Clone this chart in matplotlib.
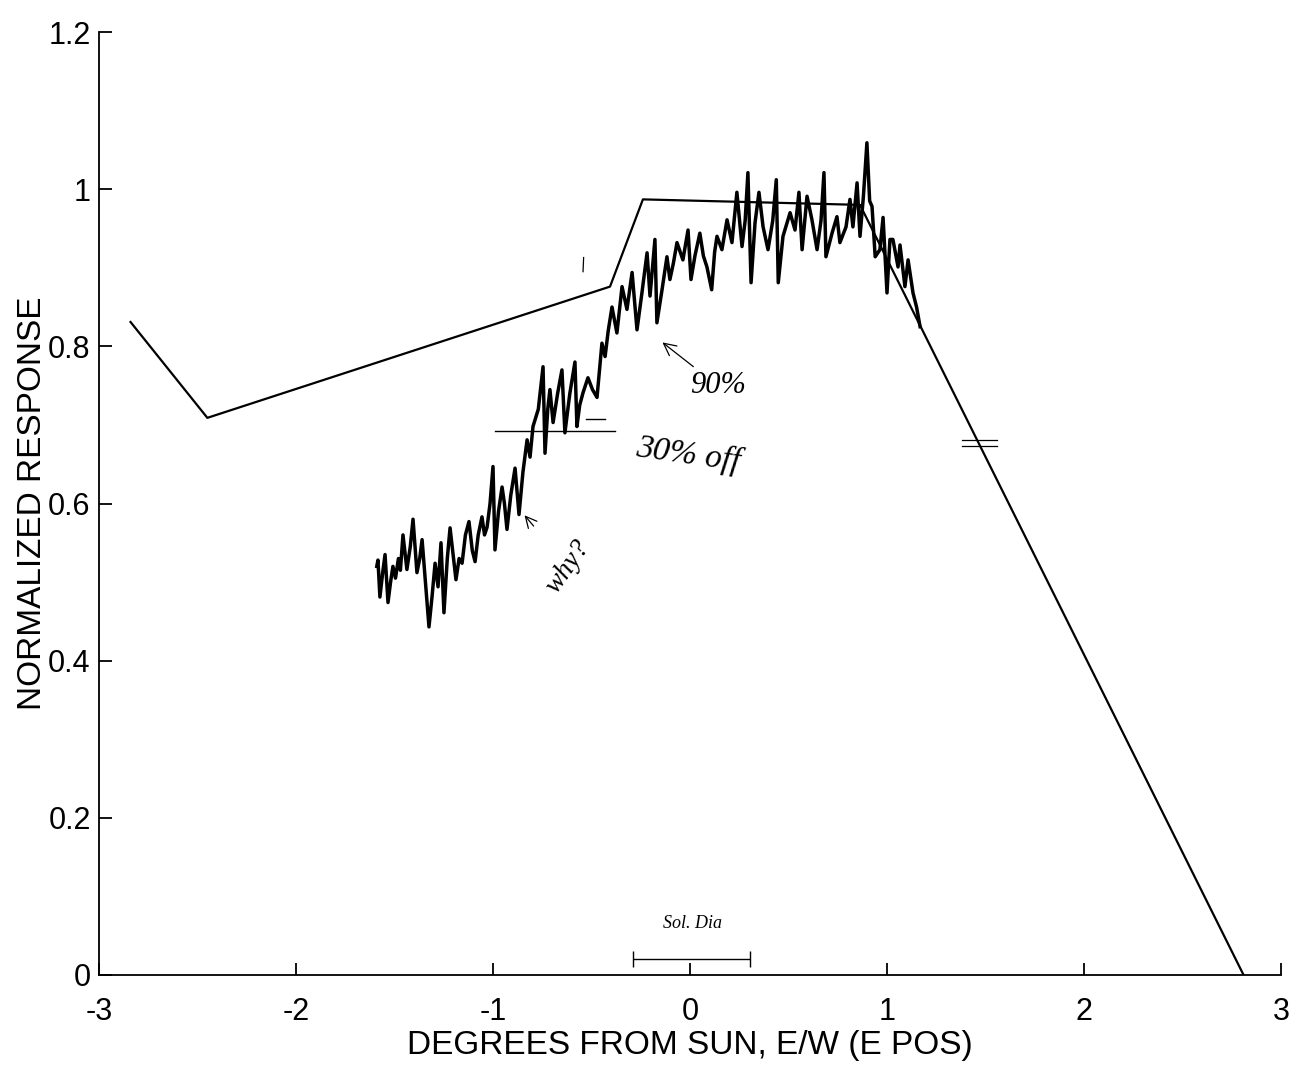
import numpy as np
import matplotlib.pyplot as plt

plt.rcParams['font.family'] = ['Liberation Sans', 'DejaVu Sans']

# piecewise model response
model_x = [-2.84, -2.45, -0.406, -0.239, 0.863, 2.81]
model_y = [0.831, 0.709, 0.876, 0.987, 0.980, 0.0]

scan_x = [-1.590, -1.584, -1.574, -1.560, -1.548, -1.533, -1.520, -1.508, -1.495, -1.480,
          -1.470, -1.457, -1.437, -1.420, -1.406, -1.386, -1.372, -1.360, -1.340, -1.325,
          -1.310, -1.294, -1.279, -1.264, -1.249, -1.232, -1.218, -1.205, -1.188, -1.172,
          -1.157, -1.140, -1.122, -1.105, -1.091, -1.075, -1.056, -1.043, -1.030, -1.015,
          -1.000, -0.990, -0.972, -0.954, -0.942, -0.929, -0.910, -0.888, -0.868, -0.848,
          -0.827, -0.812, -0.797, -0.770, -0.746, -0.736, -0.722, -0.711, -0.695, -0.672,
          -0.650, -0.635, -0.610, -0.584, -0.574, -0.560, -0.543, -0.518, -0.495, -0.472,
          -0.447, -0.431, -0.415, -0.396, -0.371, -0.345, -0.320, -0.294, -0.269, -0.244,
          -0.218, -0.203, -0.178, -0.168, -0.142, -0.117, -0.102, -0.085, -0.066, -0.036,
          -0.010, 0.005, 0.025, 0.050, 0.068, 0.086, 0.110, 0.125, 0.137, 0.162,
          0.188, 0.213, 0.238, 0.264, 0.280, 0.294, 0.310, 0.330, 0.350, 0.371,
          0.396, 0.420, 0.438, 0.448, 0.472, 0.490, 0.508, 0.533, 0.553, 0.569,
          0.594, 0.619, 0.645, 0.665, 0.680, 0.690, 0.721, 0.746, 0.761, 0.792,
          0.812, 0.827, 0.848, 0.863, 0.880, 0.898, 0.912, 0.924, 0.940, 0.964,
          0.980, 1.000, 1.015, 1.030, 1.056, 1.066, 1.091, 1.107, 1.132, 1.150,
          1.168]
scan_y = [0.520, 0.528, 0.481, 0.512, 0.535, 0.474, 0.500, 0.520, 0.505, 0.530,
          0.515, 0.560, 0.516, 0.545, 0.580, 0.512, 0.530, 0.554, 0.490, 0.443,
          0.480, 0.524, 0.494, 0.550, 0.461, 0.530, 0.569, 0.540, 0.503, 0.530,
          0.524, 0.560, 0.577, 0.540, 0.526, 0.560, 0.583, 0.560, 0.570, 0.600,
          0.647, 0.541, 0.590, 0.621, 0.600, 0.567, 0.610, 0.645, 0.586, 0.640,
          0.681, 0.659, 0.698, 0.720, 0.774, 0.664, 0.720, 0.745, 0.703, 0.740,
          0.770, 0.690, 0.740, 0.780, 0.698, 0.725, 0.741, 0.760, 0.745, 0.735,
          0.804, 0.787, 0.820, 0.850, 0.817, 0.876, 0.847, 0.894, 0.821, 0.868,
          0.919, 0.864, 0.936, 0.830, 0.872, 0.914, 0.885, 0.905, 0.932, 0.910,
          0.948, 0.885, 0.915, 0.944, 0.915, 0.901, 0.872, 0.920, 0.940, 0.923,
          0.961, 0.932, 0.996, 0.927, 0.960, 1.021, 0.881, 0.957, 0.996, 0.952,
          0.923, 0.960, 1.012, 0.881, 0.940, 0.955, 0.970, 0.948, 0.996, 0.923,
          0.991, 0.961, 0.923, 0.960, 1.021, 0.914, 0.944, 0.965, 0.932, 0.952,
          0.987, 0.952, 1.008, 0.940, 0.990, 1.059, 0.985, 0.978, 0.914, 0.923,
          0.964, 0.868, 0.936, 0.936, 0.901, 0.929, 0.876, 0.910, 0.868, 0.850,
          0.825]

# handwritten solar diameter bar
sol_dia = [-0.29, 0.305]

fig = plt.figure(figsize=(12.99, 10.89), dpi=100)
ax = fig.add_axes([99 / 1299, 114 / 1089, 1182 / 1299, 943 / 1089])

ax.plot(model_x, model_y, color='black', lw=1.6)
ax.plot(scan_x, scan_y, color='black', lw=2.5)

ax.set_xlim(-3, 3)
ax.set_ylim(0, 1.2)
ax.set_xticks([-3, -2, -1, 0, 1, 2, 3])
ax.set_xticklabels(['-3', '-2', '-1', '0', '1', '2', '3'])
ax.set_yticks([0, 0.2, 0.4, 0.6, 0.8, 1.0, 1.2])
ax.set_yticklabels(['0', '0.2', '0.4', '0.6', '0.8', '1', '1.2'])
ax.spines['top'].set_visible(False)
ax.spines['right'].set_visible(False)
ax.spines['left'].set_linewidth(1.3)
ax.spines['bottom'].set_linewidth(1.3)
ax.tick_params(axis='both', direction='in', length=9, width=1.3, labelsize=22)
ax.tick_params(axis='x', pad=16)
ax.tick_params(axis='y', pad=6)
ax.set_xlabel('DEGREES FROM SUN, E/W (E POS)', fontsize=24, labelpad=2)
ax.set_ylabel('NORMALIZED RESPONSE', fontsize=24, labelpad=0)

# pen notes on the printout
hand = dict(family=['Liberation Serif', 'DejaVu Serif'], style='italic', color='black')
ax.plot([-0.99, -0.38], [0.692, 0.692], color='black', lw=1.0)
ax.plot([-0.53, -0.43], [0.707, 0.707], color='black', lw=1.0)
ax.plot([1.38, 1.56], [0.681, 0.681], color='black', lw=0.9)
ax.plot([1.38, 1.56], [0.673, 0.673], color='black', lw=0.9)
ax.plot([-0.543, -0.540], [0.895, 0.913], color='black', lw=0.9)
ax.annotate('90%', xy=(-0.14, 0.805), xytext=(0.14, 0.75), fontsize=22, ha='center', va='center',
            arrowprops=dict(arrowstyle='->', lw=0.9, color='black', shrinkA=2, shrinkB=0), **hand)
ax.text(-0.01, 0.662, '30% off', fontsize=24, ha='center', va='center', rotation=-8, **hand)
ax.annotate('why?', xy=(-0.84, 0.585), xytext=(-0.62, 0.52), fontsize=20, ha='center', va='center',
            rotation=55, arrowprops=dict(arrowstyle='->', lw=0.9, color='black', shrinkA=6, shrinkB=0),
            **hand)
ax.errorbar([sum(sol_dia) / 2], [0.02], xerr=[[(sol_dia[1] - sol_dia[0]) / 2]], fmt='none',
            ecolor='black', elinewidth=1.0, capsize=6, capthick=1.0)
ax.text(0.015, 0.066, 'Sol. Dia', fontsize=13, ha='center', va='center', **hand)

plt.savefig('out.png', dpi=100)
